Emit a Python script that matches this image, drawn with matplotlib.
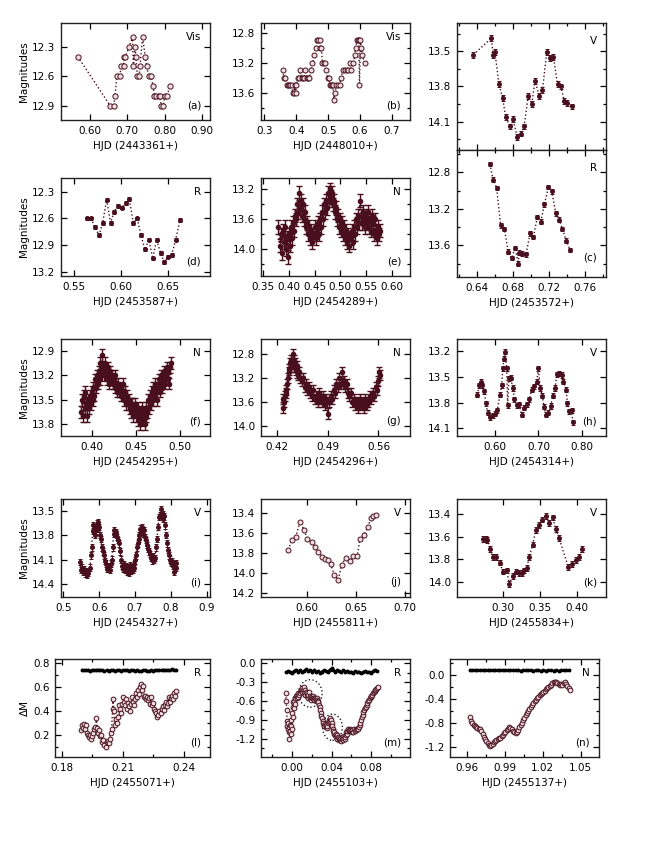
import matplotlib
matplotlib.use("Agg")
import matplotlib.pyplot as plt
from matplotlib.ticker import MultipleLocator, AutoMinorLocator, FormatStrFormatter, FuncFormatter
from matplotlib.patches import Ellipse

plt.rcParams["font.family"] = ["DejaVu Sans"]
plt.rcParams["font.size"] = 7.5
plt.rcParams["axes.unicode_minus"] = False

# ---------------- data ----------------
# (a) Vis, HJD 2443361+
a_t = [0.567, 0.654, 0.663, 0.667, 0.672, 0.681, 0.682, 0.690, 0.691, 0.695,
       0.705, 0.714, 0.716, 0.721, 0.723, 0.727, 0.732, 0.734, 0.741, 0.748,
       0.752, 0.757, 0.764, 0.769, 0.773, 0.778, 0.784, 0.788, 0.791, 0.797,
       0.800, 0.806, 0.815]
a_m = [12.4, 12.9, 12.9, 12.8, 12.6, 12.6, 12.5, 12.5, 12.4, 12.4,
       12.3, 12.2, 12.5, 12.3, 12.4, 12.6, 12.6, 12.5, 12.2, 12.4,
       12.5, 12.6, 12.6, 12.7, 12.8, 12.8, 12.8, 12.8, 12.9, 12.9,
       12.8, 12.8, 12.7]

# (b) Vis, HJD 2448010+
b_t = [0.358, 0.362, 0.366, 0.370, 0.374, 0.378, 0.382, 0.386, 0.389, 0.392,
       0.395, 0.398, 0.401, 0.405, 0.409, 0.413, 0.417, 0.421, 0.425, 0.429,
       0.433, 0.437, 0.441, 0.446, 0.451, 0.456, 0.461, 0.465, 0.469, 0.473,
       0.476, 0.479, 0.482, 0.486, 0.490, 0.494, 0.498, 0.502, 0.506, 0.510,
       0.513, 0.515, 0.518, 0.521, 0.526, 0.531, 0.536, 0.540, 0.546, 0.552,
       0.558, 0.563, 0.568, 0.573, 0.579, 0.583, 0.586, 0.590, 0.593, 0.596,
       0.598, 0.601, 0.604, 0.607, 0.614]
b_m = [13.3, 13.4, 13.4, 13.5, 13.5, 13.5, 13.5, 13.5, 13.6, 13.6,
       13.5, 13.6, 13.5, 13.4, 13.4, 13.3, 13.4, 13.4, 13.4, 13.3,
       13.4, 13.4, 13.4, 13.3, 13.2, 13.1, 13.0, 12.9, 12.9, 12.9,
       13.0, 13.0, 13.2, 13.2, 13.2, 13.3, 13.4, 13.4, 13.5, 13.5,
       13.5, 13.5, 13.7, 13.6, 13.5, 13.5, 13.5, 13.4, 13.3, 13.3,
       13.3, 13.3, 13.2, 13.3, 13.2, 13.1, 13.0, 12.9, 12.9, 12.9,
       13.5, 12.9, 13.0, 13.1, 13.2]

# V, HJD 2453572+ (top right)
v_t = [0.636, 0.656, 0.658, 0.660, 0.6645, 0.6685, 0.672, 0.6767, 0.680, 0.6848,
       0.6886, 0.6922, 0.697, 0.7008, 0.7044, 0.7089, 0.7126, 0.7174, 0.721, 0.7248,
       0.7293, 0.733, 0.7367, 0.7403, 0.7452]
v_m = [13.53, 13.39, 13.53, 13.51, 13.78, 13.90, 14.06, 14.14, 14.08, 14.23,
       14.20, 14.14, 13.88, 13.95, 13.75, 13.88, 13.83, 13.51, 13.56, 13.55,
       13.78, 13.80, 13.92, 13.94, 13.97]

# (c) R, HJD 2453572+
c_t = [0.6544, 0.658, 0.6619, 0.6663, 0.6704, 0.6748, 0.6786, 0.6822, 0.686, 0.6867,
       0.690, 0.6944, 0.6989, 0.7026, 0.707, 0.7108, 0.7148, 0.7193, 0.723, 0.7274,
       0.731, 0.7348, 0.739, 0.7433]
c_m = [12.71, 12.88, 12.97, 13.38, 13.42, 13.67, 13.74, 13.63, 13.80, 13.68,
       13.69, 13.70, 13.47, 13.51, 13.29, 13.34, 13.15, 12.96, 13.01, 13.25,
       13.32, 13.42, 13.55, 13.65]

# (d) R, HJD 2453587+
d_t = [0.5641, 0.568, 0.5722, 0.5765, 0.5804, 0.5846, 0.5888, 0.5924, 0.5963, 0.6005,
       0.6047, 0.6086, 0.6129, 0.617, 0.621, 0.6252, 0.6294, 0.6334, 0.6376, 0.6418,
       0.6457, 0.650, 0.6535, 0.6578, 0.6623]
d_m = [12.60, 12.60, 12.70, 12.79, 12.65, 12.39, 12.65, 12.53, 12.46, 12.48,
       12.43, 12.38, 12.65, 12.60, 12.79, 12.95, 12.84, 13.05, 12.84, 12.99,
       13.09, 13.03, 13.01, 12.84, 12.62]

# (e) N, HJD 2454289+
e_t = [0.380, 0.382, 0.384, 0.386, 0.388, 0.390, 0.392, 0.394, 0.396, 0.398,
       0.400, 0.402, 0.404, 0.406, 0.408, 0.410, 0.412, 0.414, 0.416, 0.418,
       0.420, 0.422, 0.424, 0.426, 0.428, 0.430, 0.432, 0.434, 0.436, 0.438,
       0.440, 0.442, 0.444, 0.446, 0.448, 0.450, 0.452, 0.454, 0.456, 0.458,
       0.460, 0.462, 0.464, 0.466, 0.468, 0.470, 0.472, 0.474, 0.476, 0.478,
       0.480, 0.482, 0.484, 0.486, 0.488, 0.490, 0.492, 0.494, 0.496, 0.498,
       0.500, 0.502, 0.504, 0.506, 0.508, 0.510, 0.512, 0.514, 0.516, 0.518,
       0.520, 0.522, 0.524, 0.526, 0.528, 0.530, 0.532, 0.534, 0.536, 0.538,
       0.540, 0.542, 0.544, 0.546, 0.548, 0.550, 0.552, 0.554, 0.556, 0.558,
       0.560, 0.562, 0.564, 0.566, 0.568, 0.570, 0.572, 0.574, 0.576, 0.578]
e_m = [13.70, 13.95, 13.80, 14.05, 13.75, 13.90, 13.70, 14.00, 13.85, 14.10,
       13.80, 13.95, 13.70, 13.85, 13.65, 13.75, 13.55, 13.60, 13.40, 13.50,
       13.25, 13.45, 13.35, 13.55, 13.40, 13.60, 13.50, 13.70, 13.65, 13.80,
       13.70, 13.85, 13.75, 13.90, 13.80, 13.70, 13.85, 13.75, 13.65, 13.80,
       13.60, 13.70, 13.50, 13.60, 13.40, 13.50, 13.35, 13.45, 13.25, 13.35,
       13.20, 13.30, 13.25, 13.40, 13.35, 13.50, 13.45, 13.60, 13.55, 13.70,
       13.60, 13.75, 13.65, 13.80, 13.70, 13.85, 13.75, 13.90, 13.80, 13.95,
       13.85, 13.75, 13.90, 13.70, 13.80, 13.60, 13.70, 13.55, 13.65, 13.35,
       13.55, 13.65, 13.50, 13.60, 13.70, 13.55, 13.65, 13.50, 13.70, 13.60,
       13.75, 13.55, 13.65, 13.80, 13.60, 13.75, 13.85, 13.70, 13.80, 13.75]

# (f) N, HJD 2454295+
f_t = [0.388, 0.389, 0.390, 0.391, 0.392, 0.393, 0.394, 0.395, 0.396, 0.397,
       0.398, 0.399, 0.400, 0.401, 0.402, 0.403, 0.404, 0.405, 0.406, 0.407,
       0.408, 0.409, 0.410, 0.411, 0.412, 0.413, 0.414, 0.415, 0.416, 0.417,
       0.418, 0.419, 0.420, 0.421, 0.422, 0.423, 0.424, 0.425, 0.426, 0.427,
       0.428, 0.429, 0.430, 0.431, 0.432, 0.433, 0.434, 0.435, 0.436, 0.437,
       0.438, 0.439, 0.440, 0.441, 0.442, 0.443, 0.444, 0.445, 0.446, 0.447,
       0.448, 0.449, 0.450, 0.451, 0.452, 0.453, 0.454, 0.455, 0.456, 0.457,
       0.458, 0.459, 0.460, 0.461, 0.462, 0.463, 0.464, 0.465, 0.466, 0.467,
       0.468, 0.469, 0.470, 0.471, 0.472, 0.473, 0.474, 0.475, 0.476, 0.477,
       0.478, 0.479, 0.480, 0.481, 0.482, 0.483, 0.484, 0.485, 0.486, 0.487,
       0.488, 0.489, 0.490]
f_m = [13.65, 13.50, 13.70, 13.45, 13.60, 13.40, 13.55, 13.70, 13.50, 13.60,
       13.45, 13.55, 13.40, 13.50, 13.35, 13.45, 13.25, 13.35, 13.20, 13.30,
       13.15, 13.25, 13.05, 13.15, 12.95, 13.10, 13.20, 13.05, 13.15, 13.25,
       13.10, 13.20, 13.30, 13.15, 13.25, 13.20, 13.30, 13.25, 13.35, 13.20,
       13.30, 13.40, 13.30, 13.40, 13.35, 13.45, 13.40, 13.30, 13.45, 13.50,
       13.40, 13.55, 13.45, 13.55, 13.50, 13.60, 13.55, 13.65, 13.55, 13.70,
       13.60, 13.55, 13.65, 13.70, 13.60, 13.75, 13.65, 13.80, 13.70, 13.60,
       13.75, 13.65, 13.80, 13.70, 13.60, 13.65, 13.50, 13.60, 13.45, 13.55,
       13.40, 13.50, 13.35, 13.45, 13.30, 13.40, 13.50, 13.35, 13.25, 13.40,
       13.30, 13.20, 13.35, 13.25, 13.15, 13.30, 13.20, 13.10, 13.25, 13.15,
       13.30, 13.10, 13.05]

# (g) N, HJD 2454296+
g_t = [0.428, 0.429, 0.430, 0.431, 0.432, 0.433, 0.434, 0.435, 0.436, 0.437,
       0.438, 0.439, 0.440, 0.441, 0.442, 0.443, 0.444, 0.445, 0.446, 0.447,
       0.448, 0.449, 0.450, 0.452, 0.454, 0.456, 0.458, 0.460, 0.462, 0.464,
       0.466, 0.468, 0.470, 0.472, 0.474, 0.476, 0.478, 0.480, 0.482, 0.484,
       0.486, 0.488, 0.490, 0.492, 0.494, 0.496, 0.498, 0.500, 0.502, 0.504,
       0.506, 0.508, 0.510, 0.512, 0.514, 0.516, 0.518, 0.520, 0.522, 0.524,
       0.526, 0.528, 0.530, 0.532, 0.534, 0.536, 0.538, 0.540, 0.542, 0.544,
       0.546, 0.548, 0.550, 0.552, 0.554, 0.556, 0.558, 0.560, 0.561, 0.562]
g_m = [13.55, 13.70, 13.60, 13.50, 13.40, 13.45, 13.30, 13.20, 13.05, 13.10,
       12.95, 13.00, 12.90, 12.95, 12.80, 12.90, 13.00, 12.95, 13.05, 13.10,
       13.00, 13.15, 13.10, 13.20, 13.25, 13.20, 13.35, 13.30, 13.40, 13.35,
       13.45, 13.50, 13.40, 13.55, 13.50, 13.60, 13.45, 13.55, 13.60, 13.50,
       13.65, 13.55, 13.80, 13.60, 13.50, 13.55, 13.40, 13.45, 13.30, 13.35,
       13.20, 13.30, 13.10, 13.25, 13.35, 13.30, 13.45, 13.50, 13.45, 13.60,
       13.55, 13.65, 13.60, 13.70, 13.55, 13.65, 13.60, 13.70, 13.55, 13.65,
       13.60, 13.50, 13.55, 13.45, 13.50, 13.35, 13.40, 13.25, 13.10, 13.15]

# (h) V, HJD 2454314+
h_t = [0.559, 0.5638, 0.567, 0.570, 0.575, 0.579, 0.583, 0.588, 0.5947, 0.600,
       0.605, 0.6115, 0.6155, 0.6178, 0.6208, 0.623, 0.627, 0.629, 0.632, 0.636,
       0.641, 0.6447, 0.650, 0.655, 0.6617, 0.667, 0.673, 0.679, 0.6847, 0.690,
       0.6963, 0.700, 0.704, 0.709, 0.7132, 0.717, 0.723, 0.7286, 0.7332, 0.7386,
       0.7425, 0.7485, 0.754, 0.7577, 0.764, 0.767, 0.7716, 0.777, 0.7795]
h_m = [13.71, 13.60, 13.56, 13.60, 13.67, 13.81, 13.92, 13.97, 13.95, 13.93,
       13.89, 13.71, 13.60, 13.40, 13.29, 13.21, 13.40, 13.83, 13.52, 13.51,
       13.63, 13.76, 13.83, 13.82, 13.94, 13.86, 13.82, 13.76, 13.65, 13.61,
       13.56, 13.40, 13.63, 13.72, 13.85, 13.94, 13.92, 13.84, 13.72, 13.63,
       13.47, 13.46, 13.48, 13.56, 13.65, 13.81, 13.90, 13.89, 14.03]

# (i) V, HJD 2454327+
i_t = [0.546, 0.549, 0.552, 0.555, 0.558, 0.561, 0.564, 0.567, 0.570, 0.574,
       0.577, 0.579, 0.582, 0.584, 0.587, 0.589, 0.591, 0.593, 0.596, 0.598,
       0.600, 0.603, 0.605, 0.607, 0.610, 0.614, 0.617, 0.620, 0.623, 0.626,
       0.629, 0.632, 0.635, 0.638, 0.640, 0.642, 0.645, 0.647, 0.649, 0.652,
       0.655, 0.658, 0.660, 0.663, 0.666, 0.669, 0.672, 0.675, 0.677, 0.680,
       0.682, 0.684, 0.687, 0.689, 0.692, 0.694, 0.696, 0.698, 0.700, 0.703,
       0.705, 0.708, 0.710, 0.712, 0.714, 0.716, 0.719, 0.721, 0.724, 0.727,
       0.730, 0.733, 0.736, 0.739, 0.742, 0.745, 0.747, 0.750, 0.753, 0.756,
       0.759, 0.761, 0.764, 0.767, 0.769, 0.772, 0.774, 0.777, 0.779, 0.781,
       0.784, 0.786, 0.789, 0.792, 0.795, 0.797, 0.800, 0.803, 0.806, 0.808,
       0.810, 0.813, 0.815]
i_m = [14.13, 14.23, 14.20, 14.25, 14.22, 14.27, 14.24, 14.29, 14.26, 14.20,
       14.05, 13.95, 13.75, 13.68, 13.80, 13.75, 13.70, 13.66, 13.72, 13.64,
       13.70, 13.80, 13.85, 13.95, 14.00, 14.05, 14.12, 14.15, 14.21, 14.18,
       14.23, 14.15, 14.10, 13.95, 13.78, 13.74, 13.78, 13.76, 13.82, 13.86,
       13.90, 14.00, 14.10, 14.18, 14.21, 14.16, 14.22, 14.18, 14.25, 14.20,
       14.26, 14.22, 14.17, 14.24, 14.19, 14.23, 14.16, 14.20, 14.11, 14.05,
       13.95, 13.90, 13.85, 13.80, 13.72, 13.75, 13.70, 13.78, 13.74, 13.82,
       13.86, 13.92, 13.97, 14.00, 14.03, 14.08, 14.11, 14.06, 14.10, 14.08,
       13.95, 13.85, 13.70, 13.58, 13.55, 13.48, 13.56, 13.54, 13.60, 13.57,
       13.68, 13.80, 13.90, 13.98, 14.05, 14.10, 14.14, 14.12, 14.18, 14.16,
       14.25, 14.20, 14.14]

# (j) V, HJD 2455811+
j_t = [0.5813, 0.5854, 0.5891, 0.5932, 0.5973, 0.6007, 0.6051, 0.6084, 0.6118, 0.6152,
       0.6186, 0.6220, 0.6244, 0.6280, 0.6321, 0.6356, 0.6396, 0.6440, 0.6474, 0.6515,
       0.6542, 0.6580, 0.6626, 0.6650, 0.6677, 0.6704]
j_m = [13.77, 13.67, 13.64, 13.49, 13.57, 13.66, 13.69, 13.74, 13.79, 13.84,
       13.86, 13.87, 13.91, 14.02, 14.07, 13.92, 13.85, 13.88, 13.83, 13.83,
       13.66, 13.62, 13.54, 13.45, 13.43, 13.42]

# (k) V, HJD 2455834+
k_t = [0.2728, 0.2760, 0.2782, 0.2819, 0.2856, 0.2900, 0.2955, 0.2992, 0.3046, 0.3082,
       0.3128, 0.3173, 0.3214, 0.3250, 0.3282, 0.3319, 0.3354, 0.3400, 0.3445, 0.3490,
       0.3531, 0.3582, 0.3627, 0.3673, 0.3714, 0.3759, 0.3886, 0.3940, 0.3990, 0.4035,
       0.4076]
k_m = [13.62, 13.62, 13.63, 13.71, 13.78, 13.78, 13.83, 13.91, 13.90, 14.02,
       13.95, 13.91, 13.92, 13.92, 13.90, 13.88, 13.78, 13.67, 13.54, 13.50,
       13.45, 13.42, 13.48, 13.43, 13.53, 13.61, 13.87, 13.84, 13.81, 13.78,
       13.71]
k_ticks = [0.30, 0.35, 0.40]

# (l) R, HJD 2455071+ : variable and comparison star (delta M)
l_t = [0.1895, 0.1900, 0.1905, 0.1910, 0.1915, 0.1920, 0.1925, 0.1930, 0.1935, 0.1940,
       0.1945, 0.1950, 0.1955, 0.1960, 0.1965, 0.1970, 0.1975, 0.1980, 0.1985, 0.1990,
       0.1995, 0.2000, 0.2005, 0.2010, 0.2015, 0.2020, 0.2025, 0.2030, 0.2035, 0.2040,
       0.2045, 0.2050, 0.2052, 0.2055, 0.2060, 0.2065, 0.2070, 0.2075, 0.2080, 0.2085,
       0.2090, 0.2095, 0.2100, 0.2105, 0.2110, 0.2115, 0.2120, 0.2125, 0.2130, 0.2135,
       0.2140, 0.2145, 0.2150, 0.2155, 0.2160, 0.2165, 0.2170, 0.2175, 0.2180, 0.2185,
       0.2190, 0.2195, 0.2200, 0.2205, 0.2210, 0.2215, 0.2220, 0.2225, 0.2230, 0.2235,
       0.2240, 0.2245, 0.2250, 0.2255, 0.2260, 0.2265, 0.2270, 0.2275, 0.2280, 0.2285,
       0.2290, 0.2295, 0.2300, 0.2305, 0.2310, 0.2315, 0.2320, 0.2325, 0.2330, 0.2335,
       0.2340, 0.2345, 0.2350, 0.2355, 0.2360]
l_dm = [0.24, 0.28, 0.26, 0.29, 0.25, 0.28, 0.22, 0.20, 0.18, 0.20,
        0.17, 0.19, 0.22, 0.25, 0.27, 0.34, 0.26, 0.22, 0.24, 0.19,
        0.20, 0.14, 0.16, 0.12, 0.10, 0.14, 0.15, 0.13, 0.17, 0.22,
        0.25, 0.42, 0.50, 0.40, 0.28, 0.33, 0.30, 0.35, 0.45, 0.42,
        0.38, 0.46, 0.52, 0.48, 0.45, 0.50, 0.42, 0.47, 0.44, 0.40,
        0.46, 0.52, 0.48, 0.45, 0.50, 0.55, 0.52, 0.58, 0.54, 0.60,
        0.63, 0.58, 0.61, 0.52, 0.53, 0.50, 0.52, 0.49, 0.51, 0.46,
        0.52, 0.45, 0.47, 0.42, 0.40, 0.38, 0.35, 0.37, 0.40, 0.38,
        0.42, 0.44, 0.41, 0.45, 0.48, 0.44, 0.47, 0.52, 0.48, 0.51,
        0.53, 0.50, 0.55, 0.53, 0.57]
lc_t = [0.190, 0.191, 0.192, 0.193, 0.194, 0.195, 0.196, 0.197, 0.198, 0.199,
        0.200, 0.201, 0.202, 0.203, 0.204, 0.205, 0.206, 0.207, 0.208, 0.209,
        0.210, 0.211, 0.212, 0.213, 0.214, 0.215, 0.216, 0.217, 0.218, 0.219,
        0.220, 0.221, 0.222, 0.223, 0.224, 0.225, 0.226, 0.227, 0.228, 0.229,
        0.230, 0.231, 0.232, 0.233, 0.234, 0.235, 0.236]
lc_dm = [0.745, 0.742, 0.740, 0.744, 0.738, 0.741, 0.746, 0.743, 0.748, 0.744,
         0.740, 0.737, 0.742, 0.739, 0.744, 0.741, 0.736, 0.740, 0.743, 0.738,
         0.742, 0.745, 0.740, 0.737, 0.741, 0.744, 0.739, 0.742, 0.738, 0.735,
         0.740, 0.743, 0.739, 0.736, 0.741, 0.738, 0.742, 0.746, 0.740, 0.744,
         0.748, 0.743, 0.746, 0.741, 0.749, 0.744, 0.747]

# (m) R, HJD 2455103+
m_t = [-0.0062, -0.0058, -0.0054, -0.0050, -0.0046, -0.0042, -0.0038, -0.0034, -0.0030, -0.0026,
       -0.0022, -0.0018, -0.0014, -0.0010, -0.0006, -0.0002, 0.0002, 0.0006, 0.0010, 0.0014,
       0.0018, 0.0022, 0.0026, 0.0030, 0.0034, 0.0040, 0.0046, 0.0052, 0.0058, 0.0064,
       0.0070, 0.0076, 0.0082, 0.0088, 0.0094, 0.0100, 0.0106, 0.0112, 0.0118, 0.0124,
       0.0130, 0.0136, 0.0142, 0.0148, 0.0154, 0.0160, 0.0166, 0.0172, 0.0178, 0.0184,
       0.0190, 0.0196, 0.0202, 0.0208, 0.0214, 0.0220, 0.0226, 0.0232, 0.0238, 0.0244,
       0.0250, 0.0256, 0.0262, 0.0268, 0.0274, 0.0280, 0.0286, 0.0292, 0.0298, 0.0304,
       0.0310, 0.0316, 0.0322, 0.0328, 0.0334, 0.0340, 0.0346, 0.0352, 0.0358, 0.0364,
       0.0370, 0.0376, 0.0382, 0.0388, 0.0394, 0.0400, 0.0406, 0.0412, 0.0418, 0.0424,
       0.0430, 0.0436, 0.0442, 0.0448, 0.0454, 0.0460, 0.0466, 0.0472, 0.0478, 0.0484,
       0.0490, 0.0496, 0.0502, 0.0508, 0.0514, 0.0520, 0.0526, 0.0532, 0.0538, 0.0544,
       0.0550, 0.0556, 0.0562, 0.0568, 0.0574, 0.0580, 0.0586, 0.0592, 0.0598, 0.0604,
       0.0612, 0.0620, 0.0628, 0.0636, 0.0644, 0.0652, 0.0660, 0.0668, 0.0676, 0.0684,
       0.0692, 0.0700, 0.0708, 0.0716, 0.0724, 0.0732, 0.0740, 0.0748, 0.0756, 0.0764,
       0.0772, 0.0780, 0.0788, 0.0796, 0.0804, 0.0812, 0.0820, 0.0828, 0.0836, 0.0844,
       0.0852, 0.0860, 0.0868]
m_dm = [-0.48, -0.60, -0.75, -0.92, -1.00, -1.05, -0.95, -1.10, -1.02, -1.20,
        -1.08, -0.98, -1.12, -1.00, -0.90, -1.05, -0.80, -0.70, -0.62, -0.85,
        -0.72, -0.60, -0.55, -0.65, -0.56, -0.52, -0.55, -0.50, -0.53, -0.48,
        -0.50, -0.46, -0.48, -0.44, -0.42, -0.45, -0.40, -0.43, -0.38, -0.46,
        -0.42, -0.50, -0.45, -0.52, -0.48, -0.55, -0.50, -0.46, -0.52, -0.56,
        -0.53, -0.58, -0.55, -0.52, -0.56, -0.55, -0.58, -0.56, -0.60, -0.57,
        -0.55, -0.58, -0.60, -0.62, -0.66, -0.70, -0.75, -0.80, -0.84, -0.88,
        -0.92, -0.95, -0.98, -1.00, -0.97, -1.02, -0.99, -1.03, -1.00, -0.96,
        -0.93, -0.90, -0.92, -0.88, -0.91, -0.95, -1.00, -1.05, -1.08, -1.12,
        -1.10, -1.15, -1.13, -1.18, -1.15, -1.20, -1.17, -1.22, -1.19, -1.23,
        -1.20, -1.24, -1.21, -1.18, -1.22, -1.19, -1.16, -1.20, -1.17, -1.14,
        -1.10, -1.12, -1.08, -1.05, -1.08, -1.06, -1.04, -1.06, -1.08, -1.10,
        -1.07, -1.09, -1.05, -1.08, -1.04, -1.06, -1.04, -1.05, -1.02, -0.99,
        -0.95, -0.90, -0.86, -0.82, -0.78, -0.75, -0.72, -0.69, -0.66, -0.63,
        -0.60, -0.58, -0.56, -0.54, -0.52, -0.50, -0.48, -0.46, -0.44, -0.42,
        -0.41, -0.39, -0.38]
mc_t = [-0.006, -0.004, -0.002, 0.000, 0.002, 0.004, 0.006, 0.008, 0.010, 0.012,
        0.014, 0.016, 0.018, 0.020, 0.022, 0.024, 0.026, 0.028, 0.030, 0.032,
        0.034, 0.036, 0.038, 0.040, 0.042, 0.044, 0.046, 0.048, 0.050, 0.052,
        0.054, 0.056, 0.058, 0.060, 0.062, 0.064, 0.066, 0.068, 0.070, 0.072,
        0.074, 0.076, 0.078, 0.080, 0.082, 0.084, 0.086]
mc_dm = [-0.14, -0.12, -0.13, -0.15, -0.12, -0.10, -0.13, -0.11, -0.14, -0.12,
         -0.09, -0.12, -0.10, -0.13, -0.11, -0.14, -0.12, -0.15, -0.13, -0.11,
         -0.12, -0.14, -0.10, -0.08, -0.11, -0.13, -0.10, -0.12, -0.14, -0.11,
         -0.13, -0.12, -0.14, -0.13, -0.15, -0.12, -0.14, -0.13, -0.15, -0.14,
         -0.12, -0.14, -0.13, -0.15, -0.12, -0.10, -0.12]
# dotted rings around the two humps in (m): centre t, centre dM, width, height
m_ring_t = [0.0185, 0.0410]
m_ring_dm = [-0.48, -1.02]
m_ring_w = [0.024, 0.020]
m_ring_h = [0.44, 0.42]

# (n) N, HJD 2455137+
n_t = [0.9625, 0.9635, 0.9645, 0.9655, 0.9665, 0.9675, 0.9685, 0.9695, 0.9705, 0.9715,
       0.9725, 0.9735, 0.9745, 0.9755, 0.9765, 0.9775, 0.9785, 0.9795, 0.9805, 0.9815,
       0.9825, 0.9835, 0.9845, 0.9855, 0.9865, 0.9875, 0.9885, 0.9895, 0.9905, 0.9915,
       0.9925, 0.9935, 0.9945, 0.9955, 0.9965, 0.9975, 0.9985, 0.9995, 1.0005, 1.0015,
       1.0025, 1.0035, 1.0045, 1.0055, 1.0065, 1.0075, 1.0085, 1.0095, 1.0105, 1.0115,
       1.0125, 1.0135, 1.0145, 1.0155, 1.0165, 1.0175, 1.0185, 1.0195, 1.0205, 1.0215,
       1.0225, 1.0235, 1.0245, 1.0255, 1.0265, 1.0275, 1.0285, 1.0295, 1.0305, 1.0315,
       1.0325, 1.0335, 1.0345, 1.0355, 1.0365, 1.0375, 1.0385, 1.0395, 1.0405, 1.0415]
n_dm = [-0.70, -0.76, -0.80, -0.83, -0.85, -0.86, -0.88, -0.90, -0.89, -0.93,
        -0.98, -1.03, -1.06, -1.10, -1.13, -1.16, -1.18, -1.17, -1.15, -1.12,
        -1.10, -1.08, -1.06, -1.05, -1.04, -1.02, -1.00, -0.97, -0.95, -0.92,
        -0.89, -0.87, -0.88, -0.90, -0.93, -0.95, -0.96, -0.94, -0.91, -0.87,
        -0.83, -0.79, -0.75, -0.71, -0.67, -0.63, -0.60, -0.56, -0.53, -0.50,
        -0.47, -0.44, -0.41, -0.38, -0.36, -0.34, -0.32, -0.30, -0.28, -0.26,
        -0.24, -0.22, -0.20, -0.19, -0.17, -0.14, -0.12, -0.11, -0.12, -0.13,
        -0.15, -0.16, -0.15, -0.17, -0.14, -0.12, -0.15, -0.18, -0.21, -0.25]
nc_t = [0.9625, 0.9645, 0.9665, 0.9685, 0.9705, 0.9725, 0.9745, 0.9765, 0.9785, 0.9805,
        0.9825, 0.9845, 0.9865, 0.9885, 0.9905, 0.9925, 0.9945, 0.9965, 0.9985, 1.0005,
        1.0025, 1.0045, 1.0065, 1.0085, 1.0105, 1.0125, 1.0145, 1.0165, 1.0185, 1.0205,
        1.0225, 1.0245, 1.0265, 1.0285, 1.0305, 1.0325, 1.0345, 1.0365, 1.0385, 1.0405]
nc_dm = [0.085, 0.082, 0.080, 0.083, 0.081, 0.079, 0.082, 0.080, 0.078, 0.081,
         0.079, 0.077, 0.080, 0.078, 0.076, 0.079, 0.077, 0.075, 0.078, 0.076,
         0.074, 0.077, 0.075, 0.078, 0.076, 0.074, 0.077, 0.075, 0.073, 0.076,
         0.074, 0.077, 0.075, 0.073, 0.076, 0.074, 0.077, 0.075, 0.078, 0.076]

# ---------------- style ----------------
MAROON = "#4a0f1e"
PINK = "#ecdde1"
W, H = 654, 846

fig = plt.figure(figsize=(W / 100, H / 100), dpi=100)


def add_panel(box):
    left, top, right, bottom = box
    return fig.add_axes([left / W, 1 - bottom / H, (right - left) / W, (bottom - top) / H])


def one_decimal(v, pos):
    s = "%.1f" % v
    return "0.0" if s == "-0.0" else s


def dress(ax, xlim, ylim, xstep, ystep, xfmt, band, letter, xlabel=None, ylabel=None,
          xminor=False, yminor=False):
    ax.set_xlim(xlim)
    ax.set_ylim(ylim)
    ax.xaxis.set_major_locator(MultipleLocator(xstep))
    ax.yaxis.set_major_locator(MultipleLocator(ystep))
    ax.xaxis.set_major_formatter(FormatStrFormatter(xfmt))
    ax.yaxis.set_major_formatter(FuncFormatter(one_decimal))
    if xminor:
        ax.xaxis.set_minor_locator(AutoMinorLocator(2))
    if yminor:
        ax.yaxis.set_minor_locator(AutoMinorLocator(2))
    ax.tick_params(which="both", direction="in", top=True, right=True,
                   width=0.9, labelsize=7.5, pad=4)
    ax.tick_params(which="major", length=4.5)
    ax.tick_params(which="minor", length=2.5)
    for sp in ax.spines.values():
        sp.set_linewidth(1.0)
        sp.set_color("#222222")
    ax.text(0.94, 0.86, band, transform=ax.transAxes, ha="right", va="center", fontsize=7.5)
    if letter:
        ax.text(0.94, 0.15, letter, transform=ax.transAxes, ha="right", va="center",
                fontsize=7.5)
    if xlabel:
        ax.set_xlabel(xlabel, fontsize=7.5, labelpad=4)
    if ylabel:
        ax.set_ylabel(ylabel, fontsize=7.5, labelpad=2)


def open_circles(ax, t, m, err, ms=3.4):
    ax.plot(t, m, ":", color=MAROON, lw=1.0)
    ax.errorbar(t, m, yerr=err, fmt="o", ms=ms, mfc=PINK, mec=MAROON, mew=0.7,
                ecolor=MAROON, elinewidth=0.6, capsize=0)


def filled_points(ax, t, m, err, ms=2.6, cap=1.6, elw=0.7):
    ax.plot(t, m, ":", color=MAROON, lw=1.0)
    ax.errorbar(t, m, yerr=err, fmt="o", ms=ms, color=MAROON, mec=MAROON,
                ecolor=MAROON, elinewidth=elw, capsize=cap, capthick=elw)


def comparison(ax, t, dm):
    ax.plot(t, dm, "-", color="black", lw=1.3, marker="o", ms=1.8)


# row 1
ax = add_panel((61, 23, 210, 120))
open_circles(ax, a_t, a_m, 0.02, ms=3.8)
dress(ax, (0.522, 0.922), (13.045, 12.059), 0.1, 0.3, "%.2f", "Vis", "(a)",
      "HJD (2443361+)", "Magnitudes")

ax = add_panel((261, 23, 410, 120))
open_circles(ax, b_t, b_m, 0.02, ms=3.6)
dress(ax, (0.29, 0.756), (13.96, 12.667), 0.1, 0.4, "%.1f", "Vis", "(b)",
      "HJD (2448010+)", yminor=True)

ax = add_panel((457, 23, 606, 150))
filled_points(ax, v_t, v_m, 0.025)
dress(ax, (0.618, 0.783), (14.34, 13.26), 0.04, 0.3, "%.2f", "V", None,
      xminor=True, yminor=True)
ax.tick_params(labelbottom=False)

ax = add_panel((457, 150, 606, 277))
filled_points(ax, c_t, c_m, 0.025)
dress(ax, (0.618, 0.783), (13.947, 12.556), 0.04, 0.4, "%.2f", "R", "(c)",
      "HJD (2453572+)", xminor=True, yminor=True)

# row 2
ax = add_panel((61, 178, 210, 276))
filled_points(ax, d_t, d_m, 0.02)
dress(ax, (0.5362, 0.6942), (13.248, 12.146), 0.05, 0.3, "%.2f", "R", "(d)",
      "HJD (2453587+)", "Magnitudes")

ax = add_panel((261, 178, 410, 276))
filled_points(ax, e_t, e_m, 0.09, ms=3.0, cap=2.0, elw=1.0)
dress(ax, (0.346, 0.6356), (14.356, 13.05), 0.05, 0.4, "%.2f", "N", "(e)",
      "HJD (2454289+)", yminor=True)

# row 3
ax = add_panel((61, 339, 210, 436))
filled_points(ax, f_t, f_m, 0.07, ms=3.0, cap=2.0, elw=1.0)
dress(ax, (0.3653, 0.534), (13.944, 12.753), 0.05, 0.3, "%.2f", "N", "(f)",
      "HJD (2454295+)", "Magnitudes")

ax = add_panel((261, 339, 410, 436))
filled_points(ax, g_t, g_m, 0.09, ms=3.0, cap=2.0, elw=1.0)
dress(ax, (0.398, 0.6035), (14.173, 12.543), 0.07, 0.4, "%.2f", "N", "(g)",
      "HJD (2454296+)")

ax = add_panel((457, 339, 606, 436))
filled_points(ax, h_t, h_m, 0.03)
dress(ax, (0.5122, 0.856), (14.19, 13.06), 0.1, 0.3, "%.2f", "V", "(h)",
      "HJD (2454314+)")

# row 4
ax = add_panel((61, 499, 210, 597))
filled_points(ax, i_t, i_m, 0.04)
dress(ax, (0.4935, 0.909), (14.56, 13.356), 0.1, 0.3, "%.1f", "V", "(i)",
      "HJD (2454327+)", "Magnitudes")

ax = add_panel((261, 499, 410, 597))
open_circles(ax, j_t, j_m, 0.02, ms=3.6)
dress(ax, (0.5536, 0.7051), (14.243, 13.263), 0.05, 0.2, "%.2f", "V", "(j)",
      "HJD (2455811+)")

ax = add_panel((457, 499, 606, 597))
filled_points(ax, k_t, k_m, 0.025)
dress(ax, (0.2369, 0.44), (14.135, 13.267), 0.05, 0.2, "%.2f", "V", "(k)",
      "HJD (2455834+)")
ax.set_xticks(k_ticks)

# row 5
ax = add_panel((55, 659, 210, 757))
comparison(ax, lc_t, lc_dm)
open_circles(ax, l_t, l_dm, 0.01)
dress(ax, (0.1767, 0.2528), (0.016, 0.836), 0.03, 0.2, "%.2f", "R", "(l)",
      "HJD (2455071+)", "ΔM", xminor=True, yminor=True)

ax = add_panel((261, 659, 410, 757))
comparison(ax, mc_t, mc_dm)
open_circles(ax, m_t, m_dm, 0.01)
for cx, cy, w, h in zip(m_ring_t, m_ring_dm, m_ring_w, m_ring_h):
    ax.add_patch(Ellipse((cx, cy), w, h, fill=False, ec="#222222", ls=":", lw=1.0))
dress(ax, (-0.0314, 0.1195), (-1.495, 0.07), 0.04, 0.3, "%.2f", "R", "(m)",
      "HJD (2455103+)", xminor=True, yminor=True)

ax = add_panel((450, 659, 599, 757))
comparison(ax, nc_t, nc_dm)
open_circles(ax, n_t, n_dm, 0.01)
dress(ax, (0.9468, 1.0644), (-1.361, 0.265), 0.03, 0.4, "%.2f", "N", "(n)",
      "HJD (2455137+)", xminor=True, yminor=True)

fig.savefig("out.png", dpi=100)
